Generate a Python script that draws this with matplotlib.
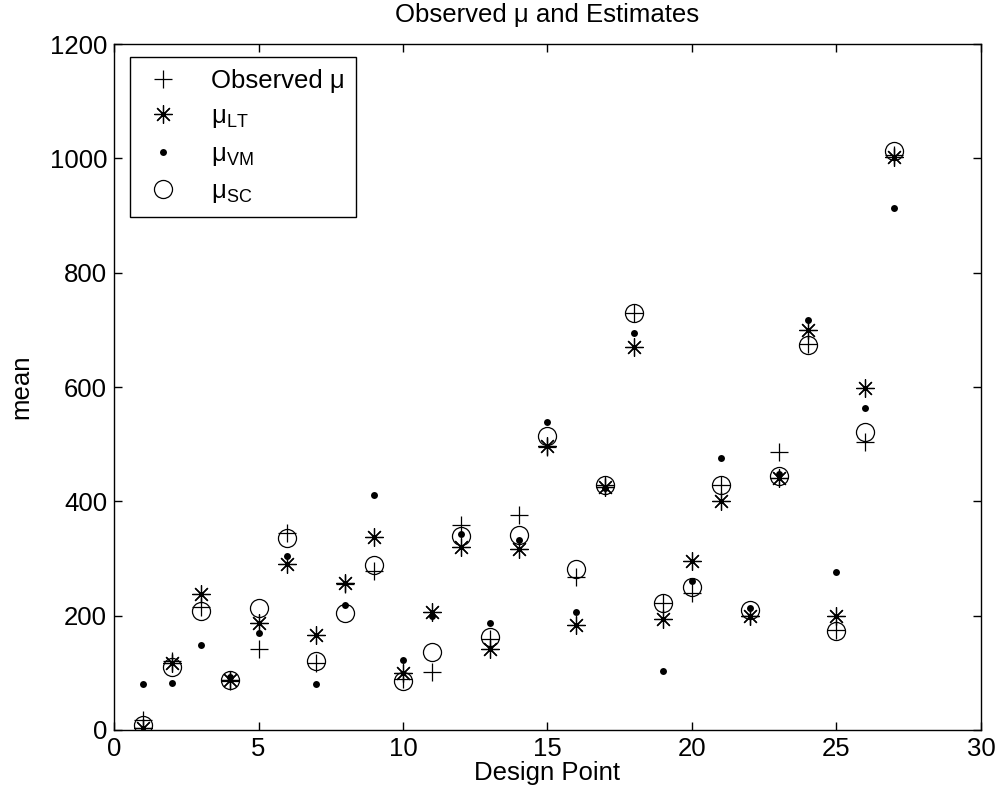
import matplotlib
matplotlib.use("Agg")
import matplotlib.pyplot as plt

design_point = list(range(1, 28))
observed = [18, 120, 215, 85, 141, 345, 118, 255, 278, 90, 102, 358, 160, 376, 495,
            268, 428, 730, 222, 240, 428, 200, 487, 675, 175, 503, 1005]
mu_lt = [3, 118, 238, 88, 187, 290, 166, 257, 338, 100, 207, 320, 142, 317, 497,
         184, 425, 670, 194, 295, 400, 200, 440, 700, 200, 599, 1002]
mu_vm = [80, 83, 149, 93, 170, 304, 80, 219, 411, 122, 200, 343, 188, 332, 539,
         206, 423, 694, 104, 261, 475, 213, 448, 718, 276, 563, 913]
mu_sc = [9, 110, 208, 88, 214, 336, 120, 204, 288, 85, 137, 340, 163, 341, 515,
         281, 428, 730, 222, 250, 428, 210, 445, 673, 173, 522, 1012]

FONT = 'Liberation Sans'
plt.rcParams['font.family'] = [FONT, 'DejaVu Sans']
plt.rcParams['mathtext.fontset'] = 'custom'
plt.rcParams['mathtext.rm'] = FONT
plt.rcParams['mathtext.it'] = FONT

fs = 18.5

fig = plt.figure(figsize=(10.01, 8.06), dpi=100)
ax = fig.add_axes([0.1139, 0.0943, 0.8661, 0.8511])

lw = 0.9
ax.plot(design_point, observed, linestyle='none', marker='+', markersize=13.5,
        markeredgewidth=lw, color='black', label='Observed μ')
ax.plot(design_point, mu_lt, linestyle='none', marker=(8, 2, 0), markersize=13,
        markeredgewidth=lw, color='black', label='$\\mathregular{μ_{LT}}$')
ax.plot(design_point, mu_vm, linestyle='none', marker='o', markersize=5,
        markeredgewidth=0, color='black', label='$\\mathregular{μ_{VM}}$')
ax.plot(design_point, mu_sc, linestyle='none', marker='o', markersize=13,
        markeredgewidth=lw, markerfacecolor='none', markeredgecolor='black',
        label='$\\mathregular{μ_{SC}}$')

ax.set_xlim(0, 30)
ax.set_ylim(0, 1200)
ax.set_xticks([0, 5, 10, 15, 20, 25, 30])
ax.set_yticks([0, 200, 400, 600, 800, 1000, 1200])
ax.tick_params(direction='in', length=6, width=1, labelsize=fs, top=True, right=True, pad=5)
for s in ax.spines.values():
    s.set_linewidth(1)

ax.set_title('Observed μ and Estimates', fontsize=fs, pad=16)
ax.set_xlabel('Design Point', fontsize=fs, labelpad=0)
ax.set_ylabel('mean', fontsize=fs, labelpad=12)

leg = ax.legend(loc='upper left', bbox_to_anchor=(0.0185, 0.981), fontsize=fs,
                frameon=True, fancybox=False, edgecolor='black', framealpha=1,
                borderpad=0.45, handlelength=1.7, handletextpad=1.0, labelspacing=0.45,
                borderaxespad=0)
leg.get_frame().set_linewidth(1)

fig.savefig('out.png', dpi=100)
